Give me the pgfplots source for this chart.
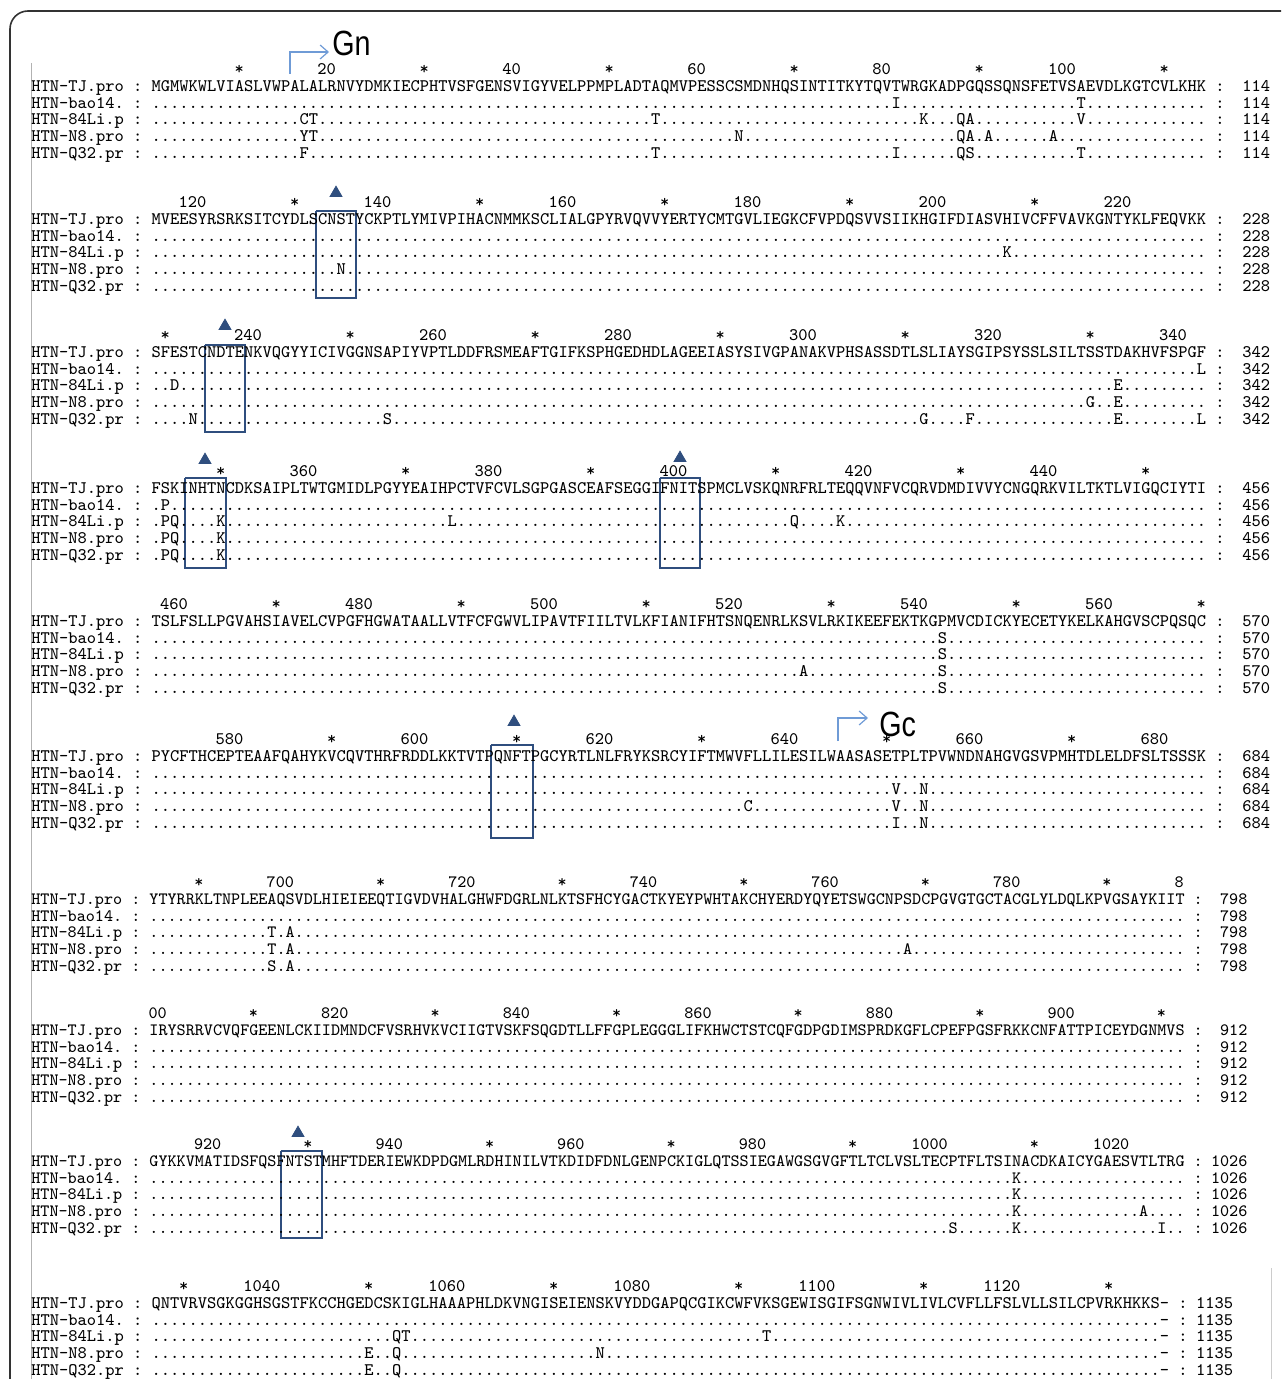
\documentclass[border=0pt]{standalone}
\usepackage{pgfplots}
\pgfplotsset{compat=1.18}
\usepackage{fontspec}
\setmainfont{Liberation Sans}
\newcommand\seqfont{\ttfamily}
\newfontfamily\gfont{Liberation Sans}
\usetikzlibrary{arrows.meta}
\definecolor{boxc}{HTML}{2F4E7E}
\definecolor{arrc}{HTML}{6F9BD6}
\definecolor{framec}{HTML}{333333}

\ExplSyntaxOn
\prop_new:N \l_sq_prop
\NewDocumentCommand\mkrow{mm}{
  \prop_set_from_keyval:Nn \l_sq_prop {#2}
  \int_step_inline:nn {#1} { \prop_if_in:NnTF \l_sq_prop {##1} { \prop_item:Nn \l_sq_prop {##1} } {.} }
}
\ExplSyntaxOff

\newcommand\seqsize{\seqfont\fontsize{\bF pt}{\bF pt}\selectfont}
\newcommand\ruler{%
 \foreach \kk in {0,...,11}{%
  \pgfmathtruncatemacro\mm{(ceil(\bS/10)+\kk)*10}%
  \pgfmathtruncatemacro\cc{\mm-\bS+1}%
  \pgfmathtruncatemacro\ok{and(\cc<=\bN,\mm!=800)}%
  \ifnum\ok=1
   \pgfmathtruncatemacro\st{mod(\mm,20)}%
   \ifnum\st=10
    \node[anchor=base,inner sep=0] at ({31+(13+\cc-0.5)*\bP},{\bY-17+4.5}) {\seqsize *};
   \else
    \node[anchor=base east,inner sep=0] at ({31+(13+\cc)*\bP},{\bY-17+4.5}) {\seqsize\mm};
   \fi
  \fi}}
\newcommand\blk[5]{\def\bY{#1}\def\bS{#2}\def\bP{#3}\def\bN{#4}\def\bE{#5}\pgfmathsetmacro\bF{#3/0.525*0.5}\ruler}
\newcommand\srow[3]{%
  \pgfmathsetmacro\yy{\bY+#1*16.7+4.5}%
  \node[anchor=base west,inner sep=0] at (31,\yy) {\seqsize #2};
  \node[anchor=base west,inner sep=0] at ({31+11*\bP},\yy) {\seqsize :};
  \node[anchor=base west,inner sep=0] at ({31+13*\bP},\yy) {\seqsize #3};
  \node[anchor=base west,inner sep=0] at ({31+(14+\bN)*\bP},\yy) {\seqsize :};
  \node[anchor=base east,inner sep=0] at ({31+(20+\bN)*\bP},\yy) {\seqsize\bE};
}

\begin{document}
\begin{tikzpicture}
\begin{axis}[at={(0,0)},anchor=south west,scale only axis,width=640.5pt,height=689.5pt,
  xmin=0,xmax=1281,ymin=0,ymax=1379,y dir=reverse,axis lines=none,ticks=none,clip=false]
\addplot[framec,line width=0.8pt,rounded corners=9pt] coordinates {(10,1379)(10,11)(1281,11)};
\addplot[gray!60,line width=0.5pt] coordinates {(31,63)(31,1379)};
\addplot[gray!40,line width=0.5pt] coordinates {(1271,1268)(1271,1379)};
% boxes
\addplot[boxc,line width=1pt,line join=miter] coordinates {(316,211)(356,211)(356,298)(316,298)(316,211)};
\addplot[boxc,line width=1pt,line join=miter] coordinates {(205,345)(245,345)(245,432)(205,432)(205,345)};
\addplot[boxc,line width=1pt,line join=miter] coordinates {(185,478)(226,478)(226,568)(185,568)(185,478)};
\addplot[boxc,line width=1pt,line join=miter] coordinates {(660,478)(700,478)(700,568)(660,568)(660,478)};
\addplot[boxc,line width=1pt,line join=miter] coordinates {(491,745)(533,745)(533,838)(491,838)(491,745)};
\addplot[boxc,line width=1pt,line join=miter] coordinates {(281,1151)(322,1151)(322,1238)(281,1238)(281,1151)};
% glycosylation triangles
\addplot[only marks,mark=triangle*,mark size=3.4pt,color=boxc] coordinates {(336,193)(225,326)(205,460)(680,458)(514,722)(298,1133)};
% Gn / Gc arrows
\addplot[arrc,line width=0.6pt,-{Straight Barb[length=4pt,width=7pt]}] coordinates {(290,74)(290,52)(329,52)};
\addplot[arrc,line width=0.6pt,-{Straight Barb[length=4pt,width=7pt]}] coordinates {(838,741)(838,718)(868,718)};
\end{axis}
\begin{scope}[x=0.5pt,y=-0.5pt,shift={(0,689.5pt)}]
\node[anchor=base west,inner sep=0,xscale=0.82] at (332,56) {\gfont\fontsize{17.5pt}{17.5pt}\selectfont Gn};
\node[anchor=base west,inner sep=0,xscale=0.82] at (879,737) {\gfont\fontsize{17.5pt}{17.5pt}\selectfont Gc};
% block 1
\blk{87}{1}{9.25}{114}{114}
\srow{0}{HTN-TJ.pro}{MGMWKWLVIASLVWPALALRNVYDMKIECPHTVSFGENSVIGYVELPPMPLADTAQMVPESSCSMDNHQSINTITKYTQVTWRGKADPGQSSQNSFETVSAEVDLKGTCVLKHK}
\srow{1}{HTN-bao14.}{\mkrow{114}{81=I,101=T}}
\srow{2}{HTN-84Li.p}{\mkrow{114}{17=C,18=T,55=T,84=K,88=Q,89=A,101=V}}
\srow{3}{HTN-N8.pro}{\mkrow{114}{17=Y,18=T,64=N,88=Q,89=A,91=A,98=A}}
\srow{4}{HTN-Q32.pr}{\mkrow{114}{17=F,55=T,81=I,88=Q,89=S,101=T}}
% block 2
\blk{220}{115}{9.25}{114}{228}
\srow{0}{HTN-TJ.pro}{MVEESYRSRKSITCYDLSCNSTYCKPTLYMIVPIHACNMMKSCLIALGPYRVQVVYERTYCMTGVLIEGKCFVPDQSVVSIIKHGIFDIASVHIVCFFVAVKGNTYKLFEQVKK}
\srow{1}{HTN-bao14.}{\mkrow{114}{}}
\srow{2}{HTN-84Li.p}{\mkrow{114}{93=K}}
\srow{3}{HTN-N8.pro}{\mkrow{114}{21=N}}
\srow{4}{HTN-Q32.pr}{\mkrow{114}{}}
% block 3
\blk{353}{229}{9.25}{114}{342}
\srow{0}{HTN-TJ.pro}{SFESTCNDTENKVQGYYICIVGGNSAPIYVPTLDDFRSMEAFTGIFKSPHGEDHDLAGEEIASYSIVGPANAKVPHSASSDTLSLIAYSGIPSYSSLSILTSSTDAKHVFSPGF}
\srow{1}{HTN-bao14.}{\mkrow{114}{114=L}}
\srow{2}{HTN-84Li.p}{\mkrow{114}{3=D,105=E}}
\srow{3}{HTN-N8.pro}{\mkrow{114}{102=G,105=E}}
\srow{4}{HTN-Q32.pr}{\mkrow{114}{5=N,26=S,84=G,89=F,105=E,114=L}}
% block 4
\blk{489}{343}{9.25}{114}{456}
\srow{0}{HTN-TJ.pro}{FSKINHTNCDKSAIPLTWTGMIDLPGYYEAIHPCTVFCVLSGPGASCEAFSEGGIFNITSPMCLVSKQNRFRLTEQQVNFVCQRVDMDIVVYCNGQRKVILTKTLVIGQCIYTI}
\srow{1}{HTN-bao14.}{\mkrow{114}{2=P}}
\srow{2}{HTN-84Li.p}{\mkrow{114}{2=P,3=Q,8=K,33=L,70=Q,75=K}}
\srow{3}{HTN-N8.pro}{\mkrow{114}{2=P,3=Q,8=K}}
\srow{4}{HTN-Q32.pr}{\mkrow{114}{2=P,3=Q,8=K}}
% block 5
\blk{622}{457}{9.25}{114}{570}
\srow{0}{HTN-TJ.pro}{TSLFSLLPGVAHSIAVELCVPGFHGWATAALLVTFCFGWVLIPAVTFIILTVLKFIANIFHTSNQENRLKSVLRKIKEEFEKTKGPMVCDICKYECETYKELKAHGVSCPQSQC}
\srow{1}{HTN-bao14.}{\mkrow{114}{86=S}}
\srow{2}{HTN-84Li.p}{\mkrow{114}{86=S}}
\srow{3}{HTN-N8.pro}{\mkrow{114}{71=A,86=S}}
\srow{4}{HTN-Q32.pr}{\mkrow{114}{86=S}}
% block 6
\blk{757}{571}{9.25}{114}{684}
\srow{0}{HTN-TJ.pro}{PYCFTHCEPTEAAFQAHYKVCQVTHRFRDDLKKTVTPQNFTPGCYRTLNLFRYKSRCYIFTMWVFLLILESILWAASASETPLTPVWNDNAHGVGSVPMHTDLELDFSLTSSSK}
\srow{1}{HTN-bao14.}{\mkrow{114}{}}
\srow{2}{HTN-84Li.p}{\mkrow{114}{81=V,84=N}}
\srow{3}{HTN-N8.pro}{\mkrow{114}{65=C,81=V,84=N}}
\srow{4}{HTN-Q32.pr}{\mkrow{114}{81=I,84=N}}
% block 7
\blk{900}{685}{9.08}{114}{798}
\node[anchor=base east,inner sep=0] at ({31+(13+114)*\bP},{\bY-17+4.5}) {\seqsize 8};
\srow{0}{HTN-TJ.pro}{YTYRRKLTNPLEEAQSVDLHIEIEEQTIGVDVHALGHWFDGRLNLKTSFHCYGACTKYEYPWHTAKCHYERDYQYETSWGCNPSDCPGVGTGCTACGLYLDQLKPVGSAYKIIT}
\srow{1}{HTN-bao14.}{\mkrow{114}{}}
\srow{2}{HTN-84Li.p}{\mkrow{114}{14=T,16=A}}
\srow{3}{HTN-N8.pro}{\mkrow{114}{14=T,16=A,84=A}}
\srow{4}{HTN-Q32.pr}{\mkrow{114}{14=S,16=A}}
% block 8
\blk{1031}{799}{9.08}{114}{912}
\node[anchor=base east,inner sep=0] at ({31+(13+2)*\bP},{\bY-17+4.5}) {\seqsize 00};
\srow{0}{HTN-TJ.pro}{IRYSRRVCVQFGEENLCKIIDMNDCFVSRHVKVCIIGTVSKFSQGDTLLFFGPLEGGGLIFKHWCTSTCQFGDPGDIMSPRDKGFLCPEFPGSFRKKCNFATTPICEYDGNMVS}
\srow{1}{HTN-bao14.}{\mkrow{114}{}}
\srow{2}{HTN-84Li.p}{\mkrow{114}{}}
\srow{3}{HTN-N8.pro}{\mkrow{114}{}}
\srow{4}{HTN-Q32.pr}{\mkrow{114}{}}
% block 9
\blk{1162}{913}{9.08}{114}{1026}
\srow{0}{HTN-TJ.pro}{GYKKVMATIDSFQSFNTSTMHFTDERIEWKDPDGMLRDHINILVTKDIDFDNLGENPCKIGLQTSSIEGAWGSGVGFTLTCLVSLTECPTFLTSINACDKAICYGAESVTLTRG}
\srow{1}{HTN-bao14.}{\mkrow{114}{96=K}}
\srow{2}{HTN-84Li.p}{\mkrow{114}{96=K}}
\srow{3}{HTN-N8.pro}{\mkrow{114}{96=K,110=A}}
\srow{4}{HTN-Q32.pr}{\mkrow{114}{89=S,96=K,112=I}}
% block 10
\blk{1304}{1027}{9.25}{110}{1135}
\srow{0}{HTN-TJ.pro}{QNTVRVSGKGGHSGSTFKCCHGEDCSKIGLHAAAPHLDKVNGISEIENSKVYDDGAPQCGIKCWFVKSGEWISGIFSGNWIVLIVLCVFLLFSLVLLSILCPVRKHKKS-}
\srow{1}{HTN-bao14.}{\mkrow{110}{110=-}}
\srow{2}{HTN-84Li.p}{\mkrow{110}{27=Q,28=T,67=T,110=-}}
\srow{3}{HTN-N8.pro}{\mkrow{110}{24=E,27=Q,49=N,110=-}}
\srow{4}{HTN-Q32.pr}{\mkrow{110}{24=E,27=Q,110=-}}
\end{scope}
\pgfresetboundingbox
\path (0,0) rectangle (640.5pt,689.5pt);
\end{tikzpicture}
\end{document}
